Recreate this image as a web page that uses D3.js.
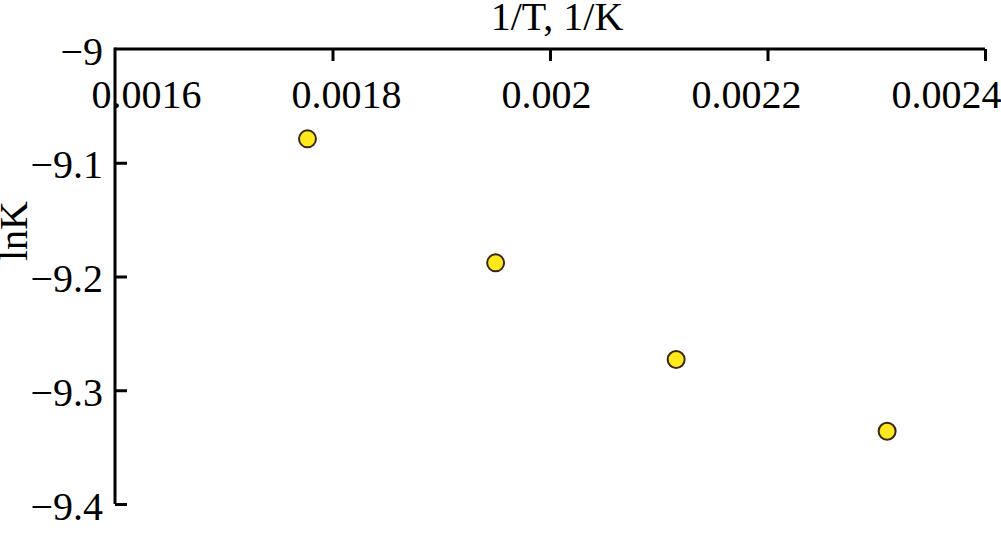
<!DOCTYPE html>
<html>
<head>
<meta charset="utf-8">
<script src="https://cdn.jsdelivr.net/npm/d3@7"></script>
<style>
  html, body { margin: 0; padding: 0; background: #fff; }
  svg { display: block; }
  text { font-family: "Liberation Serif", "Times New Roman", serif; fill: #000; }
</style>
</head>
<body>
<script>
// Data: 1/T (1/K) and lnK
const invT = [0.001777, 0.001950, 0.002116, 0.002310];
const lnK = [-9.079, -9.188, -9.273, -9.336];
const xTicks = [0.0016, 0.0018, 0.002, 0.0022, 0.0024];
const xTickLabels = ["0.0016", "0.0018", "0.002", "0.0022", "0.0024"];
const yTicks = [-9, -9.1, -9.2, -9.3, -9.4];
const yTickLabels = ["\u22129", "\u22129.1", "\u22129.2", "\u22129.3", "\u22129.4"];
const xTitle = "1/T, 1/K";
const yTitle = "lnK";

const W = 1001, H = 538;
const svg = d3.select("body").append("svg").attr("width", W).attr("height", H);

const x = d3.scaleLinear().domain([0.0016, 0.0024]).range([115, 985]);
const y = d3.scaleLinear().domain([-9, -9.4]).range([49, 504]);
// tick labels in the reference sit on a slightly compressed spread
const xLab = d3.scaleLinear().domain([0.0016, 0.0024]).range([146, 946]);

const fs = 40;

// Top x axis (ticks pointing down into plot)
const xAxis = svg.append("g").attr("transform", `translate(0,${y(-9)})`)
  .call(d3.axisBottom(x).tickValues(xTicks).tickSize(12).tickSizeOuter(0).tickFormat((d, i) => xTickLabels[i]));
xAxis.select(".domain").attr("stroke", "#000").attr("stroke-width", 3)
  .attr("d", `M${x.range()[0]},0H${x.range()[1]}`);
xAxis.selectAll(".tick line").attr("stroke", "#000").attr("stroke-width", 3);
xAxis.selectAll(".tick text")
  .attr("font-size", fs).attr("font-family", "Liberation Serif")
  .attr("y", 59).attr("dy", 0)
  .attr("x", d => xLab(d) - x(d));
xAxis.selectAll(".tick").filter(d => d === 0.0016).select("line").remove();

// Left y axis (ticks pointing right into plot)
const yAxis = svg.append("g").attr("transform", `translate(${x(0.0016)},0)`)
  .call(d3.axisRight(y).tickValues(yTicks).tickSize(12).tickSizeOuter(0).tickFormat((d, i) => yTickLabels[i]));
yAxis.select(".domain").attr("stroke", "#000").attr("stroke-width", 3)
  .attr("d", `M0,${y.range()[0] - 1.5}V${y.range()[1]}`);
yAxis.selectAll(".tick line").attr("stroke", "#000").attr("stroke-width", 3);
yAxis.selectAll(".tick").filter(d => d === -9).select("line").remove();
yAxis.selectAll(".tick text")
  .attr("font-size", fs).attr("font-family", "Liberation Serif")
  .attr("text-anchor", "end").attr("x", -12).attr("dy", 15);

// Titles
svg.append("text").attr("x", 557).attr("y", 30)
  .attr("text-anchor", "middle").attr("font-size", fs).text(xTitle);
svg.append("text").attr("transform", "translate(27,231) rotate(-90)")
  .attr("text-anchor", "middle").attr("font-size", fs).text(yTitle);

// Points
svg.append("g").selectAll("circle").data(invT).join("circle")
  .attr("cx", d => x(d)).attr("cy", (d, i) => y(lnK[i]))
  .attr("r", 8.5)
  .attr("fill", "#ffe81c").attr("stroke", "#3a2710").attr("stroke-width", 2);
</script>
</body>
</html>
